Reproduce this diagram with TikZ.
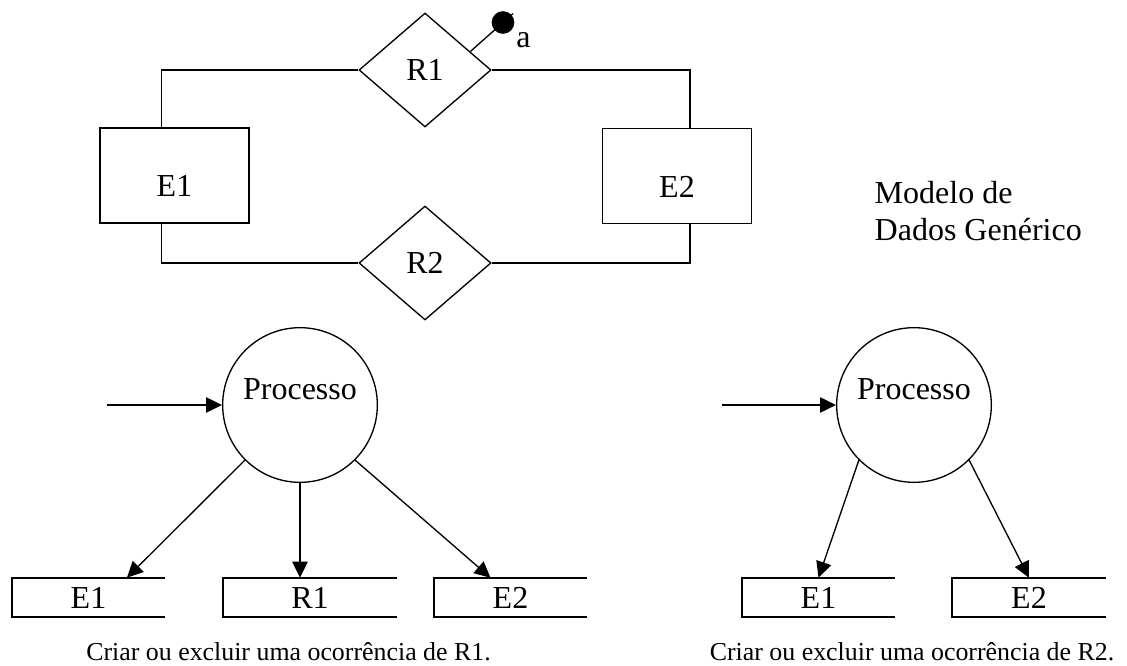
\documentclass[tikz,border=0pt]{standalone}
\usepackage{fontspec}
\setmainfont{Liberation Serif}
\usetikzlibrary{shapes.geometric,arrows.meta,calc}
\begin{document}
\begin{tikzpicture}[x=0.75pt,y=-0.75pt,font=\fontsize{24}{27.75}\selectfont]
  \tikzset{
    ent/.style={draw,line width=1pt,minimum width=111.75pt,minimum height=71.25pt,
                inner sep=0pt,text height=32pt,text depth=0pt},
    rel/.style={draw,diamond,line width=1pt,minimum width=99pt,minimum height=85.5pt,inner sep=0pt},
    proc/.style={draw,circle,line width=1pt,minimum size=116pt,inner sep=0pt,
                 text height=16pt,text depth=24pt},
    store/.style={minimum width=114.75pt,minimum height=29.25pt,inner sep=0pt},
    attr/.style={circle,fill,minimum size=17pt,inner sep=0pt},
    ln/.style={line width=1pt},
    sl/.style={line width=1.5pt},
    ar/.style={-{Triangle[length=12pt,width=11.5pt]},line width=1pt},
    legenda/.style={font=\fontsize{19.4}{23}\selectfont,anchor=base}
  }
  \useasboundingbox (0,0) rectangle (1127,666);

  % modelo de dados
  \node[ent] (e1) at (174.5,175.5) {E1};
  \node[ent] (e2) at (677,176) {E2};
  \node[rel] (r1) at (425,70) {R1};
  \node[rel] (r2) at (425,263) {R2};
  \node[attr] (att) at (503,22.5) {};
  \node (attlbl) at (523.5,40.5) {a};
  \node[align=left,anchor=west] (mdl) at (870,211) {Modelo de\\Dados Genérico};

  \draw[ln] ($(e1.north)+(-13,0)$) |- (r1.west);
  \draw[ln] (r1.east) -| ($(e2.north)+(13,0)$);
  \draw[ln] ($(e1.south)+(-13,0)$) |- (r2.west);
  \draw[ln] (r2.east) -| ($(e2.south)+(13,0)$);
  \draw[ln,shorten >=-10pt] ($(r1.north)!0.68!(r1.east)$) -- (att.center);

  % processos
  \node[proc] (p1) at (300,405) {Processo};
  \node[proc] (p2) at (914,405) {Processo};
  \coordinate (in1) at (107,405);
  \coordinate (in2) at (722,405);

  \node[store] (s1) at (88.5,597.5) {E1};
  \node[store,minimum width=130.5pt] (s2) at (310,597.5) {R1};
  \node[store] (s3) at (510.5,597.5) {E2};
  \node[store] (t1) at (818.5,597.5) {E1};
  \node[store] (t2) at (1029,597.5) {E2};
  \foreach \s in {s1,s2,s3,t1,t2}
    \draw[sl] (\s.north east) -- (\s.north west) -- (\s.south west) -- (\s.south east);

  \draw[ar] (in1) -- (p1);
  \draw[ar] (in2) -- (p2);
  \draw[ar] (p1.south west) -- ($(s1.north west)!0.75!(s1.north east)$);
  \draw[ar] (p1) -- (s2.north -| p1);
  \draw[ar] (p1.south east) -- ($(s3.north west)!0.37!(s3.north east)$);
  \draw[ar] (p2.south west) -- (t1.north);
  \draw[ar] (p2.south east) -- (t2.north);

  \node[legenda] (c1) at (288.5,660) {Criar ou excluir uma ocorrência de R1.};
  \node[legenda] (c2) at (912,660) {Criar ou excluir uma ocorrência de R2.};
\end{tikzpicture}
\end{document}
